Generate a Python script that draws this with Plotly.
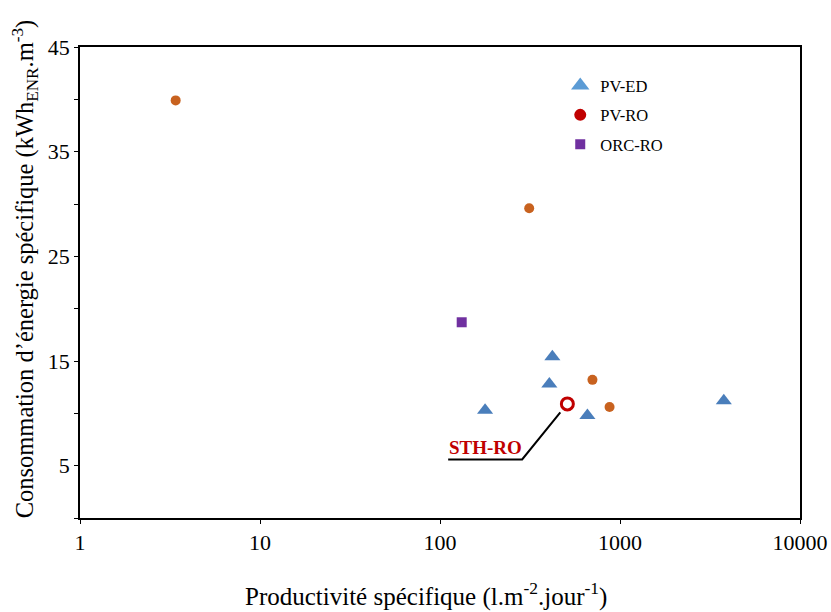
import plotly.graph_objects as go

# Data
pv_ed_x = [421, 405, 178, 659, 3773]
pv_ed_y = [15.4, 12.8, 10.3, 9.8, 11.2]

pv_ro_x = [3.4, 313, 703, 875]
pv_ro_y = [39.9, 29.6, 13.2, 10.6]

orc_ro_x = [132]
orc_ro_y = [18.7]

sth_ro_x = [510]
sth_ro_y = [10.9]
sth_label = "STH-RO"

# leader line for the STH-RO label (data coords)
leader_x = [111, 286, 466]
leader_y = [5.6, 5.6, 10.1]

x_tickvals = [1, 10, 100, 1000, 10000]
x_ticktext = ["1", "10", "100", "1000", "10000"]
y_tickvals = [0, 5, 10, 15, 20, 25, 30, 35, 40, 45]
y_ticktext = ["", "5", "", "15", "", "25", "", "35", "", "45"]

x_title = "Productivité spécifique (l.m<sup>-2</sup>.jour<sup>-1</sup>)"
y_title = "Consommation d’énergie spécifique (kWh<sub>ENR</sub>.m<sup>-3</sup>)"

FONT = "Liberation Serif, Times New Roman, serif"

fig = go.Figure()

# data traces (hidden from legend)
fig.add_trace(go.Scatter(x=pv_ed_x, y=pv_ed_y, mode="markers", showlegend=False,
                         marker=dict(symbol="triangle-up", size=14, color="#4A7EBB")))
fig.add_trace(go.Scatter(x=pv_ro_x, y=pv_ro_y, mode="markers", showlegend=False,
                         marker=dict(symbol="circle", size=10, color="#C8621F")))
fig.add_trace(go.Scatter(x=orc_ro_x, y=orc_ro_y, mode="markers", showlegend=False,
                         marker=dict(symbol="square", size=10, color="#7030A0")))
fig.add_trace(go.Scatter(x=leader_x, y=leader_y, mode="lines", showlegend=False,
                         line=dict(color="black", width=2)))
fig.add_trace(go.Scatter(x=sth_ro_x, y=sth_ro_y, mode="markers", showlegend=False,
                         marker=dict(symbol="circle-open", size=12, color="#C00000",
                                     line=dict(width=3, color="#C00000"))))

# legend entries
fig.add_trace(go.Scatter(x=[None], y=[None], mode="markers", name="PV-ED", legendgroup="a",
                         marker=dict(symbol="triangle-up", size=16, color="#5B9BD5")))
fig.add_trace(go.Scatter(x=[None], y=[None], mode="markers", name="PV-RO", legendgroup="b",
                         marker=dict(symbol="circle", size=12, color="#C00000")))
fig.add_trace(go.Scatter(x=[None], y=[None], mode="markers", name="ORC-RO", legendgroup="c",
                         marker=dict(symbol="square", size=10, color="#7030A0")))

fig.add_annotation(x=2.252, y=6.7, xref="x", yref="y", text="<b>" + sth_label + "</b>",
                   showarrow=False, xanchor="center", yanchor="middle",
                   font=dict(family="Liberation Serif, serif", size=19, color="#C00000"))

# axis titles
fig.add_annotation(x=0.4806, y=-0.163, xref="paper", yref="paper", text=x_title,
                   showarrow=False, xanchor="center", yanchor="middle",
                   font=dict(family=FONT, size=25, color="black"))
fig.add_annotation(x=-0.0764, y=0.53, xref="paper", yref="paper", text=y_title,
                   showarrow=False, xanchor="center", yanchor="middle", textangle=-90,
                   font=dict(family=FONT, size=24.5, color="black"))

fig.update_layout(
    width=831, height=612,
    margin=dict(l=80, r=31, t=47, b=94),
    paper_bgcolor="white", plot_bgcolor="white",
    font=dict(family=FONT, size=22, color="black"),
    legend=dict(x=0.667, y=0.955, xanchor="left", yanchor="top",
                font=dict(family=FONT, size=16.5), tracegroupgap=5,
                bgcolor="rgba(0,0,0,0)", traceorder="grouped"),
)
fig.update_xaxes(type="log", range=[0, 4], tickvals=x_tickvals, ticktext=x_ticktext,
                 automargin=False,
                 showgrid=False, zeroline=False, showline=True, linecolor="black", linewidth=1.5,
                 mirror=True, ticks="outside", ticklen=4, tickcolor="black",
                 tickfont=dict(family=FONT, size=22))
fig.update_yaxes(range=[0, 45], tickvals=y_tickvals, ticktext=y_ticktext,
                 automargin=False,
                 showgrid=False, zeroline=False, showline=True, linecolor="black", linewidth=1.5,
                 mirror=True, ticks="outside", ticklen=4, tickcolor="black",
                 tickfont=dict(family=FONT, size=22))

fig.write_html("out.html", config={"displayModeBar": False},
               post_script="document.body.style.margin='0';document.body.style.overflow='hidden';")
